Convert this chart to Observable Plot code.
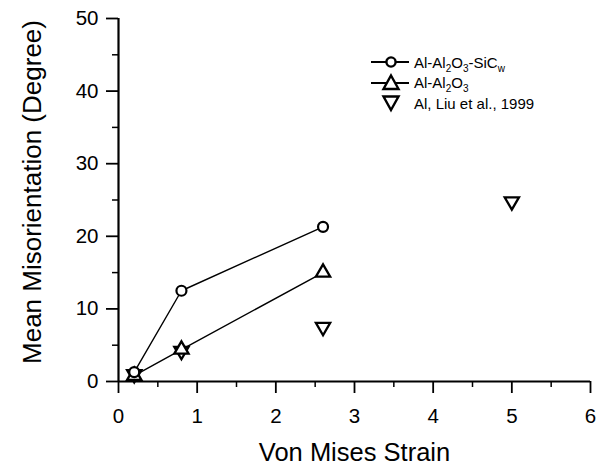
<!DOCTYPE html>
<html><head><meta charset="utf-8">
<script src="https://cdn.jsdelivr.net/npm/d3@7"></script>
<script src="https://cdn.jsdelivr.net/npm/@observablehq/plot@0.6"></script>
<style>
body{margin:0;background:#fff;font-family:"Liberation Sans",Arial,sans-serif;}
#wrap{position:relative;width:603px;height:469px;}
#legend{position:absolute;left:371px;top:52px;font-size:15px;color:#000;}
#legend .row{display:flex;align-items:center;height:20.5px;white-space:nowrap;}
#legend svg{margin-right:5px;flex:none;}
#legend sub{font-size:10px;vertical-align:-4px;line-height:0;}
#wrap svg.plot text{font-size:20.5px;}
</style></head>
<body><div id="wrap"><div id="legend"></div></div>
<script>
const sicStrain = [0.2, 0.8, 2.6];
const sicMis = [1.3, 12.5, 21.3];
const aloStrain = [0.2, 0.8, 2.6];
const aloMis = [0.8, 4.4, 15.0];
const liuStrain = [0.2, 0.8, 2.6, 5.0];
const liuMis = [1.0, 4.2, 7.5, 24.8];
const xTicks = [0,1,2,3,4,5,6];
const yTicks = [0,10,20,30,40,50];
const xMinor = [0.5,1.5,2.5,3.5,4.5,5.5];
const yMinor = [5,15,25,35,45];
const xTitle = "Von Mises Strain";
const yTitle = "Mean Misorientation (Degree)";

const sic = sicStrain.map((x,i)=>({x, y:sicMis[i]}));
const alo = aloStrain.map((x,i)=>({x, y:aloMis[i]}));
const liu = liuStrain.map((x,i)=>({x, y:liuMis[i]}));

const chart = Plot.plot({
  className: "plot",
  width: 603, height: 469,
  marginLeft: 118, marginRight: 13, marginTop: 18, marginBottom: 88,
  style: {fontFamily: '"Liberation Sans", Arial, sans-serif', color: "#000", background: "#fff"},
  x: {domain: [0, 6]},
  y: {domain: [0, 50]},
  marks: [
    Plot.axisX({ticks: xTicks, tickFormat: "d", tickSize: 12, tickPadding: 15, label: null, strokeWidth: 1.8}),
    Plot.axisX({ticks: xMinor, tickSize: 6, text: null, label: null, strokeWidth: 1.5}),
    Plot.axisY({ticks: yTicks, tickFormat: "d", tickSize: 12, tickPadding: 8, label: null, strokeWidth: 1.8}),
    Plot.axisY({ticks: yMinor, tickSize: 6, text: null, label: null, strokeWidth: 1.5}),
    Plot.text([xTitle], {text: d => d, frameAnchor: "bottom", textAnchor: "middle", lineAnchor: "middle", dy: 71, fontSize: 25.5, fill: "#000"}),
    Plot.text([yTitle], {text: d => d, frameAnchor: "left", textAnchor: "middle", lineAnchor: "middle", rotate: -90, dx: -86, dy: -8, fontSize: 26, fill: "#000"}),
    Plot.ruleX([0], {stroke: "#000", strokeWidth: 2.2}),
    Plot.ruleY([0], {stroke: "#000", strokeWidth: 2.2}),
    Plot.line(sic, {x: "x", y: "y", stroke: "#000", strokeWidth: 1.4}),
    Plot.line(alo, {x: "x", y: "y", stroke: "#000", strokeWidth: 1.4}),
    Plot.dot(liu, {x: "x", y: "y", symbol: "triangle", rotate: 180, r: 5.3, stroke: "#000", fill: "#fff", strokeWidth: 2.3}),
    Plot.dot(alo, {x: "x", y: "y", symbol: "triangle", r: 5.3, stroke: "#000", fill: "#fff", strokeWidth: 2.3}),
    Plot.dot(sic, {x: "x", y: "y", symbol: "circle", r: 5, stroke: "#000", fill: "#fff", strokeWidth: 2.2})
  ]
});
document.getElementById("wrap").prepend(chart);
chart.querySelectorAll("text").forEach(t => {
  if (t.closest('g[aria-label="text"]')) t.style.fontSize = "inherit";
});

const legendItems = [
  {line: true, sym: "circle", label: "Al-Al<sub>2</sub>O<sub>3</sub>-SiC<sub>w</sub>"},
  {line: true, sym: "triangle", label: "Al-Al<sub>2</sub>O<sub>3</sub>"},
  {line: false, sym: "down", label: "Al, Liu et al., 1999"}
];
const lg = document.getElementById("legend");
legendItems.forEach(it => {
  const row = document.createElement("div");
  row.className = "row";
  let shape = "";
  if (it.sym === "circle") shape = '<circle cx="20" cy="10" r="4.6" fill="#fff" stroke="#000" stroke-width="2.4"/>';
  if (it.sym === "triangle") shape = '<path d="M20,2.5 L27.5,16 L12.5,16 Z" fill="#fff" stroke="#000" stroke-width="2.4"/>';
  if (it.sym === "down") shape = '<path d="M20,17 L27.5,3.5 L12.5,3.5 Z" fill="#fff" stroke="#000" stroke-width="2.4"/>';
  const ln = it.line ? '<line x1="0" x2="38" y1="10" y2="10" stroke="#000" stroke-width="2.2"/>' : "";
  row.innerHTML = '<svg width="38" height="20">' + ln + shape + '</svg><span>' + it.label + '</span>';
  lg.appendChild(row);
});
</script></body></html>
